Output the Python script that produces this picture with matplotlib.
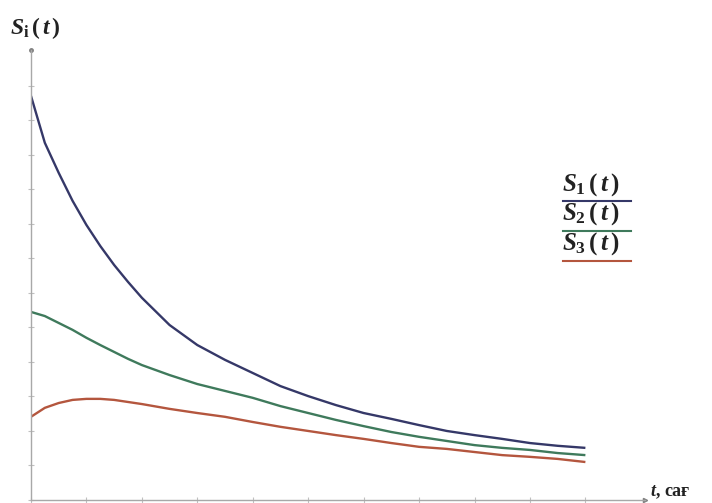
import matplotlib
matplotlib.use("Agg")
import matplotlib.pyplot as plt
from matplotlib.lines import Line2D

plt.rcParams['mathtext.fontset'] = 'custom'
plt.rcParams['mathtext.rm'] = 'Liberation Serif:bold'
plt.rcParams['mathtext.it'] = 'Liberation Serif:italic:bold'

# time, hours
t = [0, 0.25, 0.5, 0.75, 1, 1.25, 1.5, 1.75, 2, 2.5, 3, 3.5, 4, 4.5, 5,
     5.5, 6, 6.5, 7, 7.5, 8, 8.5, 9, 9.5, 10]

s1 = [11.71, 10.35, 9.48, 8.67, 7.97, 7.36, 6.81, 6.32, 5.86, 5.07, 4.49, 4.06, 3.68,
      3.30, 3.01, 2.75, 2.52, 2.35, 2.17, 2.0, 1.88, 1.77, 1.65, 1.57, 1.51]
s2 = [5.45, 5.33, 5.13, 4.93, 4.70, 4.49, 4.29, 4.09, 3.91, 3.62, 3.36, 3.16, 2.96,
      2.72, 2.52, 2.32, 2.14, 1.97, 1.83, 1.71, 1.59, 1.51, 1.45, 1.36, 1.30]
s3 = [2.41, 2.67, 2.81, 2.90, 2.93, 2.93, 2.90, 2.84, 2.78, 2.64, 2.52, 2.41, 2.26,
      2.12, 2.0, 1.88, 1.77, 1.65, 1.54, 1.48, 1.39, 1.30, 1.25, 1.19, 1.10]

names = [r'$S_{\mathrm{1}}\,(\,t\,)$', r'$S_{\mathrm{2}}\,(\,t\,)$', r'$S_{\mathrm{3}}\,(\,t\,)$']
colors = ['#353868', '#3f7a5c', '#b4563e']

x_ticks = list(range(0, 11))
y_ticks = list(range(0, 13))

fig = plt.figure(figsize=(7.12, 5.03), dpi=100)
ax = fig.add_axes([0.0435, 0.006, 0.862, 0.8946])

for ys, c in zip([s1, s2, s3], colors):
    ax.plot(t, ys, color=c, lw=1.7, solid_capstyle='butt', solid_joinstyle='round')

ax.set_xlim(0, 11.07)
ax.set_ylim(0, 13.04)
ax.set_xticks(x_ticks)
ax.set_yticks(y_ticks)
ax.set_xticklabels([])
ax.set_yticklabels([])
ax.tick_params(direction='inout', length=4, width=0.8, color='#c0c0c0')

for side in ['top', 'right']:
    ax.spines[side].set_visible(False)
for side in ['left', 'bottom']:
    ax.spines[side].set_color('#a8a8a8')
    ax.spines[side].set_linewidth(1.0)

# axis arrow heads
ax.plot(1, 0, '>', color='#808080', ms=3, transform=ax.transAxes, clip_on=False)
ax.plot(0, 1, 'o', color='#808080', ms=2.5, transform=ax.transAxes, clip_on=False)

fig.text(0.014, 0.944, r'$S_{\mathrm{i}}\,(\,t\,)$', ha='left', va='center', fontsize=17,
         color='#222222')
fig.text(0.913, 0.022, r'$t$' + ', сағ', ha='left', va='center', fontsize=13,
         family='Liberation Serif', weight='bold', color='#222222')

# legend: text with a coloured underline
leg_y = [0.634, 0.575, 0.515]
for name, c, yy in zip(names, colors, leg_y):
    fig.text(0.789, yy, name, ha='left', va='center', fontsize=18, color='#222222')
    fig.add_artist(Line2D([0.791, 0.886], [yy - 0.034, yy - 0.034], color=c, lw=1.5,
                          transform=fig.transFigure))

fig.savefig('out.png', dpi=100)
